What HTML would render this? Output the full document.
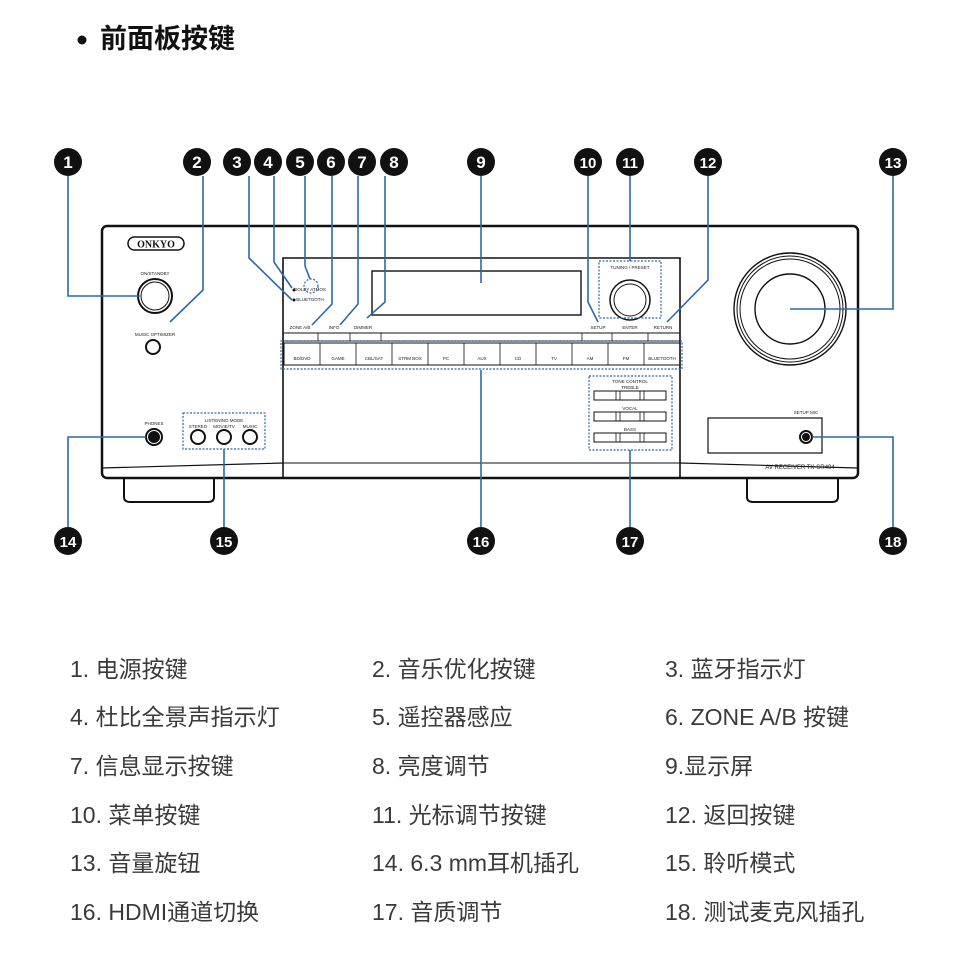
<!DOCTYPE html>
<html><head><meta charset="utf-8"><style>
html,body{margin:0;padding:0;background:#fff;width:960px;height:964px;overflow:hidden}
svg{display:block}
.l{font-family:"Liberation Sans","Noto Sans CJK SC",sans-serif;font-size:23px;fill:#3a3a3a}
.n{font-family:"Liberation Sans",sans-serif;font-size:17px;font-weight:bold;fill:#fff;text-anchor:middle}
.t{font-family:"Liberation Sans",sans-serif;font-size:4.5px;fill:#222;text-anchor:middle}
</style></head><body>
<svg width="960" height="964" viewBox="0 0 960 964" xmlns="http://www.w3.org/2000/svg">
<circle cx="82" cy="40" r="4.5" fill="#111"/>
<text x="100" y="48" font-family="'Liberation Sans','Noto Sans CJK SC',sans-serif" font-size="27" font-weight="bold" fill="#111">前面板按键</text>

<!-- receiver body -->
<g fill="none" stroke="#111" stroke-width="2">
<path d="M124 478 V497 Q124 502 130 502 H208 Q214 502 214 497 V478"/>
<path d="M747 478 V497 Q747 502 753 502 H832 Q838 502 838 497 V478"/>
<rect x="102" y="226" width="756" height="252" rx="5" fill="#fff" stroke-width="2.5"/>
<path d="M102 468 L283 463 M680 463 L858 468" stroke-width="1.2"/>
<path d="M283 478 V258 H680 V478" stroke-width="1.6"/>
<path d="M283 463 H680" stroke-width="1"/>
<rect x="372" y="271" width="209" height="44" stroke-width="1.4"/>
<path d="M283 333 H680 M283 341 H680" stroke-width="1"/>
<path d="M318 333 V341 M350 333 V341 M381 333 V341 M582 333 V341 M612 333 V341 M648 333 V341" stroke-width="0.8"/>
<rect x="284" y="343" width="396" height="22" stroke-width="1"/>
<circle cx="155" cy="296" r="17"/><circle cx="155" cy="296" r="14" stroke-width="1"/>
<circle cx="153" cy="347" r="7"/>
<circle cx="154" cy="437" r="8"/><circle cx="154" cy="437" r="5" fill="#111"/>
<circle cx="198" cy="437" r="7"/><circle cx="224" cy="437" r="7"/><circle cx="250" cy="437" r="7"/>
<circle cx="630" cy="300" r="20" stroke-width="1.5"/><circle cx="630" cy="300" r="16" stroke-width="1"/>
<circle cx="790" cy="309" r="56" stroke-width="1.4"/><circle cx="790" cy="309" r="53" stroke-width="1"/><circle cx="790" cy="309" r="50" stroke-width="1"/>
<circle cx="790" cy="309" r="35" stroke-width="1.4"/>
<rect x="708" y="418" width="114" height="35" stroke-width="1.2"/>
<circle cx="806" cy="437" r="6"/><circle cx="806" cy="437" r="3" fill="#111"/>
<rect x="594" y="391" width="72" height="9" stroke-width="1"/>
<rect x="594" y="412" width="72" height="9" stroke-width="1"/>
<rect x="594" y="433" width="72" height="9" stroke-width="1"/>
<path d="M616 391v9M620 391v9M640 391v9M644 391v9M616 412v9M620 412v9M640 412v9M644 412v9M616 433v9M620 433v9M640 433v9M644 433v9" stroke-width="0.8"/>
</g>
<rect x="128" y="237" width="56" height="13" rx="6.5" fill="#fff" stroke="#111" stroke-width="1.5"/>
<text x="156" y="247.5" font-family="'Liberation Serif',serif" font-size="10" font-weight="bold" text-anchor="middle" fill="#111">ONKYO</text>
<circle cx="294" cy="290" r="1.5" fill="#111"/><circle cx="294" cy="300" r="1.5" fill="#111"/>
<g class="t">
<text x="155" y="275">ON/STANDBY</text><text x="155" y="336">MUSIC OPTIMIZER</text>
<text x="310" y="291">DOLBY ATMOS</text><text x="310" y="301">BLUETOOTH</text>
<text x="300" y="329">ZONE A/B</text><text x="334" y="329">INFO</text><text x="363" y="329">DIMMER</text>
<text x="598" y="329">SETUP</text><text x="630" y="329">ENTER</text><text x="663" y="329">RETURN</text>
<text x="630" y="269">TUNING / PRESET</text>
<text x="154" y="425">PHONES</text><text x="224" y="422">LISTENING MODE</text>
<text x="198" y="428">STEREO</text><text x="224" y="428">MOVIE/TV</text><text x="250" y="428">MUSIC</text>
<text x="630" y="383">TONE CONTROL</text><text x="630" y="389">TREBLE</text><text x="630" y="410">VOCAL</text><text x="630" y="431">BASS</text>
<text x="806" y="414">SETUP MIC</text><text x="800" y="469" font-size="6">AV RECEIVER  TX-SR494</text>
<text x="302" y="360">BD/DVD</text><text x="338" y="360">GAME</text><text x="374" y="360">CBL/SAT</text><text x="410" y="360">STRM BOX</text><text x="446" y="360">PC</text><text x="482" y="360">AUX</text><text x="518" y="360">CD</text><text x="554" y="360">TV</text><text x="590" y="360">AM</text><text x="626" y="360">FM</text><text x="662" y="360">BLUETOOTH</text>
</g>
<g stroke="#111" stroke-width="0.8">
<path d="M320 343v22M356 343v22M392 343v22M428 343v22M464 343v22M500 343v22M536 343v22M572 343v22M608 343v22M644 343v22"/>
</g>
<!-- dashed boxes -->
<g fill="none" stroke="#2a6aa8" stroke-width="1.2" stroke-dasharray="2,1.5">
<rect x="281" y="341" width="401" height="28"/>
<rect x="183" y="413" width="82" height="36"/>
<rect x="599" y="261" width="62" height="57"/>
<rect x="589" y="376" width="83" height="74"/>
<circle cx="311" cy="286" r="7"/>
</g>
<!-- leaders -->
<g fill="none" stroke="#2a6aa8" stroke-width="1.6">
<path d="M68 176V296H140"/><path d="M203 176V290L170 322"/>
<path d="M249 176V258L292 300"/><path d="M274 176V262L292 288"/>
<path d="M305 176V266L310 279"/><path d="M332 176V304L312 325"/>
<path d="M358 176V304L340 325"/><path d="M385 176V302L367 318"/>
<path d="M481 176V283"/><path d="M588 176V302L598 322"/>
<path d="M630 176V261"/><path d="M708 176V280L667 322"/>
<path d="M893 176V309H790"/>
<path d="M68 527V437H146"/><path d="M224 527V449"/><path d="M481 527V370"/>
<path d="M630 527V450"/><path d="M893 527V437H812"/>
</g>
<!-- number circles -->
<g fill="#111">
<circle cx="68" cy="162" r="14"/><circle cx="197" cy="162" r="14"/><circle cx="237" cy="162" r="14"/><circle cx="268" cy="162" r="14"/><circle cx="300" cy="162" r="14"/><circle cx="331" cy="162" r="14"/><circle cx="362" cy="162" r="14"/><circle cx="394" cy="162" r="14"/>
<circle cx="481" cy="162" r="14"/><circle cx="588" cy="162" r="14"/><circle cx="630" cy="162" r="14"/><circle cx="708" cy="162" r="14"/><circle cx="893" cy="162" r="14"/>
<circle cx="68" cy="541" r="14"/><circle cx="224" cy="541" r="14"/><circle cx="481" cy="541" r="14"/><circle cx="630" cy="541" r="14"/><circle cx="893" cy="541" r="14"/>
</g>
<g class="n">
<text x="68" y="168">1</text><text x="197" y="168">2</text><text x="237" y="168">3</text><text x="268" y="168">4</text><text x="300" y="168">5</text><text x="331" y="168">6</text><text x="362" y="168">7</text><text x="394" y="168">8</text>
<text x="481" y="168">9</text><text x="588" y="168" font-size="15">10</text><text x="630" y="168" font-size="15">11</text><text x="708" y="168" font-size="15">12</text><text x="893" y="168" font-size="15">13</text>
<text x="68" y="547" font-size="15">14</text><text x="224" y="547" font-size="15">15</text><text x="481" y="547" font-size="15">16</text><text x="630" y="547" font-size="15">17</text><text x="893" y="547" font-size="15">18</text>
</g>
<!-- list -->
<g class="l">
<text x="70" y="677">1. 电源按键</text><text x="372" y="677">2. 音乐优化按键</text><text x="665" y="677">3. 蓝牙指示灯</text>
<text x="70" y="725">4. 杜比全景声指示灯</text><text x="372" y="725">5. 遥控器感应</text><text x="665" y="725">6. ZONE A/B 按键</text>
<text x="70" y="774">7. 信息显示按键</text><text x="372" y="774">8. 亮度调节</text><text x="665" y="774">9.显示屏</text>
<text x="70" y="823">10. 菜单按键</text><text x="372" y="823">11. 光标调节按键</text><text x="665" y="823">12. 返回按键</text>
<text x="70" y="871">13. 音量旋钮</text><text x="372" y="871">14. 6.3 mm耳机插孔</text><text x="665" y="871">15. 聆听模式</text>
<text x="70" y="920">16. HDMI通道切换</text><text x="372" y="920">17. 音质调节</text><text x="665" y="920">18. 测试麦克风插孔</text>
</g>
</svg>
</body></html>
